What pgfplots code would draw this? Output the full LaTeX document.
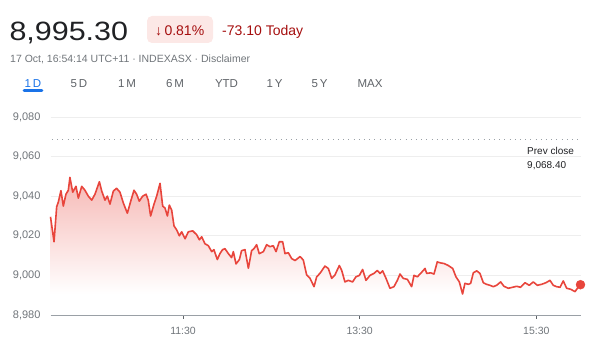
\documentclass[border=0pt]{standalone}
\usepackage{pgfplots}
\pgfplotsset{compat=1.18}
\usepackage{pgfplotstable}
\usepackage{fontspec}
\setmainfont{Liberation Sans}
\definecolor{gred}{HTML}{E8453C}
\definecolor{dred}{HTML}{A50E0E}
\definecolor{pinkbg}{HTML}{FCE8E6}
\definecolor{gtext}{HTML}{70757A}
\definecolor{gdark}{HTML}{202124}
\definecolor{gblue}{HTML}{1A73E8}
\definecolor{gridc}{HTML}{EEEEEE}
\definecolor{axc}{HTML}{9AA0A6}
\definecolor{tabc}{HTML}{5F6368}

\pgfplotstableread{
m v
0 9029.6
2.4 9017
4.2 9034.7
5.3 9037
7.1 9042.8
8.7 9035
10.5 9041
12.1 9043
13.2 9049.5
15.1 9042
17.3 9045
18.9 9039
21.2 9045
23.4 9043
25.7 9040
28.0 9038
30.2 9041
33.2 9047.3
34.8 9042.6
37.0 9038
38.6 9040
40.4 9036
42.7 9042.6
44.9 9044
47.2 9042
49.5 9036.5
52.2 9031.4
54.5 9037.5
56.7 9043
58.5 9041
60.3 9037.5
62.6 9040
64.9 9041
66.4 9038
68.0 9030
70.3 9036
72.1 9040
74.4 9046.5
76.2 9035
77.8 9034
79.4 9030
80.7 9035.5
82.3 9033
83.9 9025
85.7 9023
87.5 9020
89.1 9022
91.4 9018.5
93.6 9022
96.6 9022.5
99.3 9020.5
101.1 9018
102.7 9019.5
104.9 9016
107.2 9015
109.5 9012
111.0 9013
113.3 9008
115.1 9011
116.9 9013
118.5 9013.5
120.8 9011
123.0 9009
124.2 9012
126.0 9005.8
128.3 9008
129.8 9012.5
132.1 9013
134.4 9003.6
136.6 9012.5
138.2 9013.5
140.0 9015.5
141.8 9011
144.6 9012
146.8 9015.5
149.1 9014.5
151.3 9015
153.2 9012
155.4 9017
157.7 9017
159.3 9011
161.5 9011.5
163.8 9008.5
166.1 9007.5
169.5 9009.5
171.7 9007.8
174.0 9000.2
176.3 8998.5
179.0 8994.3
180.8 8999.3
183.0 9001
186.4 9004.7
188.7 9003.5
191.0 8998.5
193.2 9000.2
196.2 9005
197.8 9002.5
200.0 8996.7
202.3 8997.5
205.2 8996.7
207.5 8999.3
209.8 9000
212.0 9003
214.3 8997.5
217.0 9000
219.7 9001
222.0 9002.5
223.8 9001
225.6 9002.3
227.9 8998.5
230.6 8993.5
233.3 8994.3
235.6 8997.5
237.4 9000.7
239.6 8998.5
242.4 8998
245.3 8994.3
246.9 9000
249.2 8999.3
251.4 9001
254.4 9003.5
255.5 9001
258.2 9001.3
260.5 9000.7
262.7 9006.8
265.0 9006.3
267.3 9006
270.2 9005
273.2 9003.5
275.4 8999.3
277.7 8996.7
279.9 8990.6
281.5 8996
283.8 8995.5
285.4 8996
287.2 9001.3
289.5 9002.3
291.7 9001
294.0 8996.3
296.2 8995.5
298.5 8995
300.8 8994.3
303.0 8995
305.8 8996.7
308.0 8994.5
311.0 8993.5
313.9 8994
316.6 8994.5
319.3 8994
322.3 8996.3
325.2 8995
327.9 8996.7
330.7 8995
333.6 8995.5
336.5 8996.3
339.3 8997.5
341.5 8995
343.8 8994.3
346.1 8994
348.3 8997.2
350.6 8993.5
353.3 8993
356.3 8991.8
357.9 8993.5
360 8995.3
}\pricedata

\begin{document}
\begin{tikzpicture}
\path[use as bounding box] (0,0) rectangle (606pt,353pt);
% header
\node[anchor=base west, inner sep=0pt, text=gdark] at (9.3pt,312.3pt)
  {\scalebox{1.15}[1]{\fontsize{26.5}{30}\selectfont 8,995.30}};
\fill[pinkbg, rounded corners=5pt] (147pt,310pt) rectangle (213pt,337pt);
\node[anchor=base west, inner sep=0pt, text=dred] at (155pt,317pt)
  {\fontsize{14}{16}\selectfont ↓\,0.81\%};
\node[anchor=base west, inner sep=0pt, text=dred] at (222pt,317pt)
  {\fontsize{14}{16}\selectfont -73.10 Today};
\node[anchor=base west, inner sep=0pt, text=gtext] at (10pt,290.3pt)
  {\fontsize{10.5}{12}\selectfont 17 Oct, 16:54:14 UTC+11 · INDEXASX · Disclaimer};
% tabs
\foreach \xx/\lab in {79/5\,D,127/1\,M,175/6\,M,226.5/YTD,274.5/1\,Y,319.5/5\,Y,370/MAX}{
  \node[anchor=base, inner sep=0pt, text=tabc] at (\xx pt,265.7pt) {\fontsize{11.5}{13}\selectfont \lab};
}
\node[anchor=base, inner sep=0pt, text=gblue] at (33pt,265.7pt) {\fontsize{11.5}{13}\selectfont 1\,D};
\draw[gblue, line width=2.6pt, line cap=round] (24pt,262.3pt) -- (42pt,262.3pt);
% prev close label
\node[anchor=base west, inner sep=0pt, text=gdark] at (527pt,198.5pt) {\fontsize{10}{12}\selectfont Prev close};
\node[anchor=base west, inner sep=0pt, text=gdark] at (527pt,184.5pt) {\fontsize{10}{12}\selectfont 9,068.40};

\begin{axis}[
  at={(50.5pt,38pt)}, anchor=south west,
  width=530pt, height=198pt, scale only axis,
  xmin=0, xmax=360, ymin=8980, ymax=9080,
  clip=false,
  axis x line*=bottom, axis y line*=left,
  y axis line style={draw=none},
  x axis line style={draw=axc, line width=0.9pt, -},
  xtick={90,210,330}, xticklabels={11:30,13:30,15:30},
  ytick={8980,9000,9020,9040,9060,9080},
  ymajorgrids, grid style={gridc, line width=0.8pt},
  tick align=outside,
  major tick length=4pt,
  ytick style={draw=none},
  xtick style={draw=tabc, line width=0.9pt},
  /pgf/number format/assume math mode=true,
  /pgf/number format/1000 sep={,},
  xticklabel style={font=\fontsize{10.5}{12}\selectfont, text=gtext, yshift=-4.5pt},
  yticklabel style={font=\fontsize{11}{12}\selectfont, text=gtext, xshift=-2.5pt},
]
\addplot[draw=none, top color=gred!38, bottom color=white] table[x=m,y=v] {\pricedata}
  -- (axis cs:360,8990.6) -- (axis cs:0,8990.6) -- cycle;
\addplot[draw=gred, line width=1.6pt, line join=round] table[x=m,y=v] {\pricedata};
\addplot[draw=axc, line width=1pt, dash pattern=on 1pt off 4.2pt] coordinates {(1,9068.4) (359,9068.4)};
\addplot[only marks, mark=*, mark size=4.5pt, color=gred] coordinates {(360,8995.3)};
\end{axis}
\end{tikzpicture}
\end{document}
